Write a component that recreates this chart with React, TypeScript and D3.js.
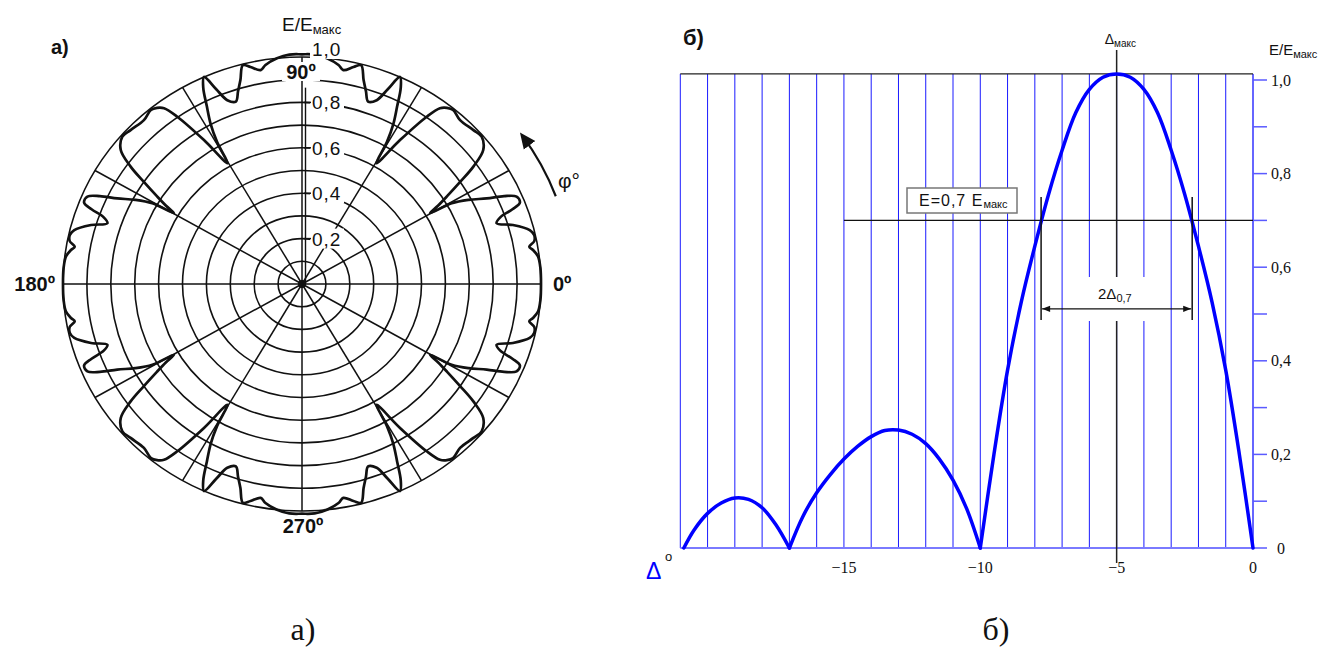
import React from 'react';
import * as d3 from 'd3';

// ---------- Polar pattern (a) : first quadrant, mirrored to the four quadrants ----------
const polarAngle = [0, 4, 7, 8.8, 9.8, 11, 12.5, 14, 16.4, 18.2, 19.5, 20.5, 21.5, 23.2, 24.6, 26, 28, 29.6, 30.2, 31.2, 32.5, 34.2, 35.8, 37.9, 40.8, 43.4, 47.5, 50.5, 52, 53.3, 54.7, 57.1, 59.6, 60.4, 61.5, 63, 64.5, 65.8, 67.3, 68.9, 71, 72.5, 74, 75.6, 77.3, 79.6, 81, 84, 87, 90];
const polarRadius = [1.0, 1.0, 0.995, 0.978, 0.965, 0.99, 0.995, 0.982, 0.92, 0.857, 0.88, 0.94, 0.98, 0.977, 0.93, 0.86, 0.79, 0.72, 0.62, 0.665, 0.72, 0.8, 0.884, 0.961, 0.993, 0.987, 0.979, 0.994, 0.985, 0.966, 0.903, 0.755, 0.617, 0.72, 0.8, 0.876, 0.96, 1.0, 0.93, 0.868, 0.85, 0.89, 0.935, 0.995, 0.98, 0.958, 0.977, 1.0, 1.012, 1.012];
const ringValues = [0.1, 0.2, 0.3, 0.4, 0.5, 0.6, 0.7, 0.8, 0.9, 1.0];
const spokeAngles = [0, 30, 60, 90, 120, 150, 180, 210, 240, 270, 300, 330];
const radialLabelValues = [0.2, 0.4, 0.6, 0.8, 1.0];
const radialLabels = ['0,2', '0,4', '0,6', '0,8', '1,0'];

// ---------- Pattern (b) ----------
const lobe1X = [-20.87, -20.5, -20, -19.5, -19, -18.5, -18, -17.5, -17];
const lobe1Y = [0, 0.038, 0.074, 0.096, 0.107, 0.104, 0.086, 0.05, 0];
const lobe2X = [-17, -16.5, -16, -15.5, -15, -14.5, -14, -13.5, -13, -12.5, -12, -11.5, -11, -10.5, -10];
const lobe2Y = [0, 0.068, 0.118, 0.157, 0.19, 0.217, 0.238, 0.251, 0.252, 0.243, 0.223, 0.19, 0.145, 0.084, 0];
const lobe3X = [-10, -9.5, -9, -8.5, -8, -7.5, -7, -6.5, -6, -5.5, -5, -4.5, -4, -3.5, -3, -2.5, -2, -1.5, -1, -0.5, 0];
const lobe3Y = [0, 0.2, 0.38, 0.525, 0.645, 0.755, 0.85, 0.93, 0.98, 1.006, 1.013, 1.006, 0.98, 0.93, 0.85, 0.755, 0.645, 0.525, 0.38, 0.2, 0];
const gridX = [-21, -20, -19, -18, -17, -16, -15, -14, -13, -12, -11, -10, -9, -8, -7, -6, -5, -4, -3, -2, -1, 0];
const yTicks = [0, 0.1, 0.2, 0.3, 0.4, 0.5, 0.6, 0.7, 0.8, 0.9, 1.0];
const yTickLabels = ['0', '', '0,2', '', '0,4', '', '0,6', '', '0,8', '', '1,0'];
const xTickValues = [-15, -10, -5, 0];
const xTickLabels = ['\u221215', '\u221210', '\u22125', '0'];
const deltaMax = -5;
const gridTop = 1.013;
const levelValue = 0.7;
const levelFrom = -15;
const halfX = [-7.77, -2.23];

const SANS = "'Liberation Sans', Arial, Helvetica, sans-serif";
const SERIF = "'Liberation Serif', 'Times New Roman', Times, serif";

function Polar() {
  const cx = 302, cy = 284;
  const rX = d3.scaleLinear().domain([0, 1]).range([0, 239]);
  const rY = d3.scaleLinear().domain([0, 1]).range([0, 227]);
  const P = (a: number, r: number): [number, number] => {
    const t = (a * Math.PI) / 180;
    return [cx + rX(r) * Math.cos(t), cy - rY(r) * Math.sin(t)];
  };
  const pts: [number, number][] = [];
  const n = polarAngle.length;
  for (let i = 0; i < n; i++) pts.push([polarAngle[i], polarRadius[i]]);
  for (let i = n - 2; i >= 0; i--) pts.push([180 - polarAngle[i], polarRadius[i]]);
  for (let i = 1; i < n; i++) pts.push([180 + polarAngle[i], polarRadius[i]]);
  for (let i = n - 2; i >= 1; i--) pts.push([360 - polarAngle[i], polarRadius[i]]);
  const line = d3.line().curve(d3.curveCatmullRomClosed.alpha(0.5));
  const d = line(pts.map(([a, r]) => P(a, r))) || '';

  const a0 = P(20, 1.13);
  const a1 = P(35.5, 1.13);
  const arcD = `M${a0[0]},${a0[1]} A${rX(1.13)},${rY(1.13)} 0 0 0 ${a1[0]},${a1[1]}`;

  return (
    <g>
      {ringValues.map((r) => (
        <ellipse key={r} cx={cx} cy={cy} rx={rX(r)} ry={rY(r)} fill="none" stroke="#111" strokeWidth={1.6} />
      ))}
      {spokeAngles.map((a) => {
        const [x2, y2] = P(a, 1);
        return <line key={a} x1={cx} y1={cy} x2={x2} y2={y2} stroke="#111" strokeWidth={1.5} />;
      })}
      <line x1={cx + 3.5} y1={cy} x2={cx + 3.5} y2={cy - rY(0.865)} stroke="#111" strokeWidth={1.4} />
      <circle cx={cx} cy={cy} r={4} fill="#111" />
      <path d={d} fill="none" stroke="#111" strokeWidth={2.7} strokeLinejoin="round" />

      {radialLabelValues.map((v, i) => {
        const yy = cy - rY(v) - (v === 1 ? 8 : 0);
        return (
          <g key={v}>
            <rect x={cx + 8} y={yy - 10} width={34} height={20} fill="#fff" />
            {v !== 1 && <line x1={cx + 2} x2={cx + 9} y1={yy} y2={yy} stroke="#111" strokeWidth={1.5} />}
            <text x={cx + 10} y={yy + 7} fontFamily={SANS} fontSize={19} letterSpacing={1} fill="#111">{radialLabels[i]}</text>
          </g>
        );
      })}
      <rect x={282} y={62} width={38} height={19} fill="#fff" />
      <text x={301} y={79} textAnchor="middle" fontFamily={SANS} fontWeight="bold" fontSize={20} fill="#111">90º</text>
      <text x={55} y={291} textAnchor="end" fontFamily={SANS} fontWeight="bold" fontSize={20} fill="#111">180º</text>
      <text x={553} y={291} textAnchor="start" fontFamily={SANS} fontWeight="bold" fontSize={20} fill="#111">0º</text>
      <text x={303} y={533} textAnchor="middle" fontFamily={SANS} fontWeight="bold" fontSize={20} fill="#111">270º</text>
      <text x={282} y={31} fontFamily={SANS} fontSize={19} fill="#111">E/E<tspan fontSize={13} dy={3}>макс</tspan></text>
      <text x={51} y={54} fontFamily={SANS} fontWeight="bold" fontSize={20} fill="#111">а)</text>
      <path d={arcD} fill="none" stroke="#111" strokeWidth={2.2} markerEnd="url(#phiArrow)" />
      <text x={558} y={188} fontFamily={SANS} fontSize={21} fill="#111">φ°</text>
    </g>
  );
}

function Cartesian() {
  const x = d3.scaleLinear().domain([-21, 0]).range([680.3, 1253]);
  const y = d3.scaleLinear().domain([0, 1]).range([548, 80]);
  const line = d3.line<[number, number]>().x((d) => x(d[0])).y((d) => y(d[1])).curve(d3.curveCatmullRom.alpha(0.5));
  const lobes = [
    lobe1X.map((v, i) => [v, lobe1Y[i]] as [number, number]),
    lobe2X.map((v, i) => [v, lobe2Y[i]] as [number, number]),
    lobe3X.map((v, i) => [v, lobe3Y[i]] as [number, number]),
  ];
  const yTop = y(gridTop);
  const y0 = y(0);
  return (
    <g>
      {gridX.map((v) => (
        <line key={v} x1={x(v)} x2={x(v)} y1={yTop} y2={y0} stroke="#1a1aff" strokeWidth={1} />
      ))}
      <line x1={x(-21)} x2={x(0)} y1={y0} y2={y0} stroke="#7a7aff" strokeWidth={2} />
      <line x1={x(0)} x2={x(0)} y1={yTop} y2={y0} stroke="#5a5aff" strokeWidth={1.5} />
      {yTicks.map((t, i) => (
        <g key={t}>
          <line x1={x(0)} x2={x(0) + 14} y1={y(t)} y2={y(t)} stroke="#5a5aff" strokeWidth={1.5} />
          {yTickLabels[i] && (
            <text x={1281} y={y(t) + 5.5} textAnchor="middle" fontFamily={SERIF} fontSize={16} fill="#111">{yTickLabels[i]}</text>
          )}
        </g>
      ))}
      <line x1={x(-21)} x2={x(0)} y1={yTop} y2={yTop} stroke="#222" strokeWidth={1.2} />
      <line x1={x(deltaMax)} x2={x(deltaMax)} y1={yTop - 24} y2={y0 + 15} stroke="#222" strokeWidth={1.5} />
      <line x1={x(levelFrom)} x2={x(0)} y1={y(levelValue)} y2={y(levelValue)} stroke="#111" strokeWidth={1.3} />
      {lobes.map((l, i) => (
        <path key={i} d={line(l) || ''} fill="none" stroke="#0000ff" strokeWidth={3.5} strokeLinejoin="round" strokeLinecap="round" />
      ))}
      <rect x={1068} y={277} width={96} height={44} fill="#fff" />
      <text x={1098} y={299} fontFamily={SANS} fontSize={15} fill="#111">2Δ<tspan fontSize={11} dy={3}>0,7</tspan></text>
      {halfX.map((v) => (
        <line key={v} x1={x(v)} x2={x(v)} y1={y(0.75)} y2={y(0.487)} stroke="#111" strokeWidth={1.5} />
      ))}
      <line x1={x(halfX[0]) + 1} x2={x(halfX[1]) - 1} y1={y(0.511)} y2={y(0.511)} stroke="#111" strokeWidth={1.2}
        markerStart="url(#dimArrow)" markerEnd="url(#dimArrow)" />
      <rect x={907} y={188} width={110} height={25} fill="#fff" stroke="#777" strokeWidth={1.5} />
      <text x={919} y={206} fontFamily={SANS} fontSize={16} letterSpacing={1} fill="#111">E=0,7 E<tspan fontSize={11} dy={2} letterSpacing={0}>макс</tspan></text>

      <text x={x(deltaMax) - 12} y={44} fontFamily={SANS} fontSize={14} fill="#111">Δ<tspan fontSize={10} dy={3}>макс</tspan></text>
      <text x={1269} y={55} fontFamily={SANS} fontSize={15} fill="#111">E/E<tspan fontSize={11} dy={3}>макс</tspan></text>
      {xTickValues.map((v, i) => (
        <text key={v} x={x(v)} y={573} textAnchor="middle" fontFamily={SERIF} fontSize={16} fill="#111">{xTickLabels[i]}</text>
      ))}
      <text x={646} y={579} fontFamily={SANS} fontSize={23} fill="#0000ff">Δ</text>
      <text x={665} y={561} fontFamily={SANS} fontSize={13} fill="#111">o</text>
      <text x={683} y={45} fontFamily={SANS} fontWeight="bold" fontSize={22} fill="#111">б)</text>
    </g>
  );
}

export default function App() {
  return (
    <svg width={1327} height={652} style={{ position: 'absolute', left: 0, top: 0, background: '#fff' }}>
      <defs>
        <marker id="phiArrow" viewBox="0 0 10 10" refX="8" refY="5" markerWidth="16" markerHeight="16" markerUnits="userSpaceOnUse" orient="auto">
          <path d="M0,0.5 L10,5 L0,9.5 z" fill="#111" />
        </marker>
        <marker id="dimArrow" viewBox="0 0 10 10" refX="10" refY="5" markerWidth="10" markerHeight="8" markerUnits="userSpaceOnUse" orient="auto-start-reverse">
          <path d="M0,1 L10,5 L0,9 z" fill="#111" />
        </marker>
      </defs>
      <rect x={0} y={0} width={1327} height={652} fill="#fff" />
      <Polar />
      <Cartesian />
      <text x={303} y={640} textAnchor="middle" fontFamily={SERIF} fontSize={32} fill="#111">а)</text>
      <text x={996} y={640} textAnchor="middle" fontFamily={SERIF} fontSize={32} fill="#111">б)</text>
    </svg>
  );
}
